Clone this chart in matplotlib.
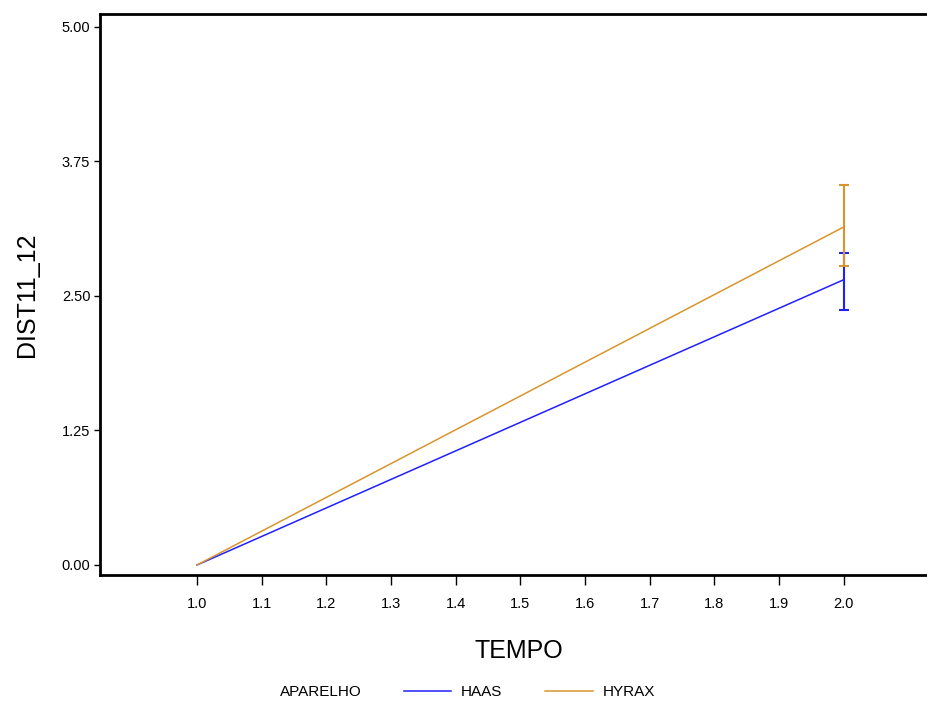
import numpy as np
import matplotlib.pyplot as plt
from matplotlib.lines import Line2D

plt.rcParams['font.family'] = ['Liberation Sans', 'DejaVu Sans']

tempo = [1.0, 2.0]
groups = ['HAAS', 'HYRAX']
means = {'HAAS': [0.0, 2.65], 'HYRAX': [0.0, 3.14]}
lower = {'HAAS': [0.0, 2.37], 'HYRAX': [0.0, 2.78]}
upper = {'HAAS': [0.0, 2.90], 'HYRAX': [0.0, 3.53]}
colors = {'HAAS': '#2020FF', 'HYRAX': '#D8952E'}
xticks = [1.0, 1.1, 1.2, 1.3, 1.4, 1.5, 1.6, 1.7, 1.8, 1.9, 2.0]
yticks = [0.0, 1.25, 2.50, 3.75, 5.00]

fig = plt.figure(figsize=(9.28, 7.02), dpi=100)
ax = fig.add_axes([100/928, 127/702, 1 - 100/928 + 0.01, 561/702])

for g in groups:
    m = np.array(means[g])
    err = [m - np.array(lower[g]), np.array(upper[g]) - m]
    ax.plot(tempo, m, color=colors[g], lw=1.1)
    ax.errorbar(tempo[1:], m[1:], yerr=[err[0][1:], err[1][1:]], fmt='none',
                ecolor=colors[g], elinewidth=1.5, capsize=3.5, capthick=1.5)

ax.set_xlim(0.85, 2.145)
ax.set_ylim(-0.093, 5.12)
ax.set_xticks(xticks)
ax.set_xticklabels(['%.1f' % t for t in xticks])
ax.set_yticks(yticks)
ax.set_yticklabels(['%.2f' % t for t in yticks])
ax.tick_params(axis='x', labelsize=10.5, length=7, width=1, pad=9)
ax.tick_params(axis='y', labelsize=10.5, length=4, width=1, pad=3)
ax.spines['right'].set_visible(False)
for s in ['left', 'top', 'bottom']:
    ax.spines[s].set_linewidth(2)

ax.set_xlabel('TEMPO', fontsize=18, labelpad=20)
ax.set_ylabel('DIST11_12', fontsize=18, labelpad=16)

fig.text(280/928, 1 - 692/702, 'APARELHO', fontsize=11, va='center')
handles = [Line2D([], [], color=colors[g], lw=1.1) for g in groups]
fig.legend(handles, groups, ncol=2, frameon=False, fontsize=11,
           loc='center left', bbox_to_anchor=(390/928, 1 - 692/702),
           handlelength=3.1, columnspacing=2.8, handletextpad=0.65)

fig.savefig('out.png', dpi=100)
